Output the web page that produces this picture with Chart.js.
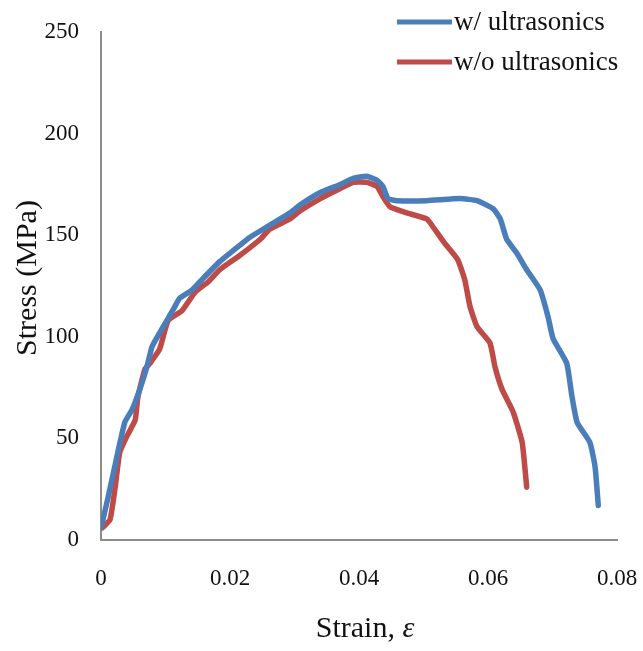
<!DOCTYPE html>
<html>
<head>
<meta charset="utf-8">
<script src="https://cdn.jsdelivr.net/npm/chart.js@4/dist/chart.umd.min.js"></script>
<style>
  html, body { margin: 0; padding: 0; background: #fff; }
  #wrap { width: 643px; height: 651px; }
</style>
</head>
<body>
<div id="wrap"><canvas id="c" width="643" height="651"></canvas></div>
<script>
// Tensile stress-strain curves, with and without ultrasonic treatment
const seriesNames = ['w/ ultrasonics', 'w/o ultrasonics'];
const seriesColors = ['#4a7ebb', '#be4b48'];

const withStrain = [0, 0.0011, 0.0026, 0.0037, 0.0048, 0.0060, 0.0071, 0.0079, 0.0091, 0.0102,
  0.0113, 0.0122, 0.0141, 0.0153, 0.0184, 0.0215, 0.0231, 0.0262, 0.0293, 0.0309,
  0.0340, 0.0371, 0.0391, 0.0412, 0.0428, 0.0437, 0.0445, 0.0459, 0.0505, 0.0557,
  0.0583, 0.0608, 0.0619, 0.0629, 0.0645, 0.0660, 0.0681, 0.0693, 0.0701, 0.0722,
  0.0730, 0.0738, 0.0758, 0.0766, 0.0771];
const withStress = [6, 21, 43, 58, 64, 74, 85, 95, 102, 108,
  114, 119, 123, 127, 137, 145, 149, 155, 161, 165,
  171, 175, 178, 179, 177, 174, 168, 167, 167, 168,
  167, 163, 158, 148, 141, 133, 123, 110, 99, 87,
  71, 58, 48, 36, 17];

const withoutStrain = [0.0002, 0.0014, 0.0022, 0.0029, 0.0040, 0.0053, 0.0057, 0.0068, 0.0076, 0.0091,
  0.0104, 0.0126, 0.0146, 0.0166, 0.0184, 0.0215, 0.0247, 0.0262, 0.0293, 0.0309,
  0.0340, 0.0371, 0.0391, 0.0412, 0.0428, 0.0437, 0.0448, 0.0474, 0.0505, 0.0515,
  0.0533, 0.0553, 0.0564, 0.0572, 0.0583, 0.0603, 0.0611, 0.0622, 0.0639, 0.0653,
  0.0660];
const withoutStress = [6, 10, 26, 43, 51, 59, 70, 84, 87, 94,
  108, 113, 122, 127, 133, 140, 148, 153, 158, 162,
  168, 173, 176, 176, 174, 169, 164, 161, 158, 154,
  146, 138, 128, 115, 105, 97, 85, 74, 63, 48,
  26];

const xTicks = [0, 0.02, 0.04, 0.06, 0.08];
const yTicks = [0, 50, 100, 150, 200, 250];

const toPoints = (xs, ys) => xs.map((x, i) => ({ x: x, y: ys[i] }));

const SERIF = '"Liberation Serif", "Times New Roman", serif';
const TEXT = '#111111';
const AXIS = '#8c8c8c';

// Legend in the top-right corner, plus both axis titles (the x title has an italic epsilon)
const decorations = {
  id: 'decorations',
  afterDraw(chart) {
    const ctx = chart.ctx;
    ctx.save();
    // legend
    const rows = [22, 62];
    chart.data.datasets.forEach((ds, i) => {
      const y = rows[i];
      ctx.strokeStyle = ds.borderColor;
      ctx.lineWidth = 5;
      ctx.lineCap = 'butt';
      ctx.beginPath();
      ctx.moveTo(397, y);
      ctx.lineTo(452, y);
      ctx.stroke();
      ctx.fillStyle = TEXT;
      ctx.font = '27px ' + SERIF;
      ctx.textBaseline = 'middle';
      ctx.textAlign = 'left';
      ctx.fillText(ds.label, 454, y + 1);
    });

    // x-axis title
    const ty = 629;
    const cx = 365;
    ctx.font = '30px ' + SERIF;
    const part1 = 'Strain, ';
    const w1 = ctx.measureText(part1).width;
    ctx.font = 'italic 30px ' + SERIF;
    const w2 = ctx.measureText('ε').width;
    const start = cx - (w1 + w2) / 2;
    ctx.textBaseline = 'middle';
    ctx.textAlign = 'left';
    ctx.font = '30px ' + SERIF;
    ctx.fillText(part1, start, ty);
    ctx.font = 'italic 30px ' + SERIF;
    ctx.fillText('ε', start + w1, ty);

    // y-axis title
    ctx.translate(28, 278);
    ctx.rotate(-Math.PI / 2);
    ctx.font = '30px ' + SERIF;
    ctx.textAlign = 'center';
    ctx.textBaseline = 'middle';
    ctx.fillText('Stress (MPa)', 0, 0);
    ctx.restore();
  }
};

const lineStyle = {
  showLine: true,
  borderWidth: 5.5,
  pointRadius: 0,
  tension: 0.15,
  borderJoinStyle: 'round',
  borderCapStyle: 'round'
};

new Chart(document.getElementById('c'), {
  type: 'scatter',
  data: {
    datasets: [
      Object.assign({
        label: seriesNames[0],
        data: toPoints(withStrain, withStress),
        borderColor: seriesColors[0],
        backgroundColor: seriesColors[0]
      }, lineStyle),
      Object.assign({
        label: seriesNames[1],
        data: toPoints(withoutStrain, withoutStress),
        borderColor: seriesColors[1],
        backgroundColor: seriesColors[1]
      }, lineStyle)
    ]
  },
  options: {
    responsive: false,
    animation: false,
    devicePixelRatio: 1,
    layout: { padding: { top: 32, right: 26, bottom: 0, left: 0 } },
    plugins: {
      legend: { display: false },
      tooltip: { enabled: false }
    },
    scales: {
      x: {
        type: 'linear',
        min: 0,
        max: 0.08,
        afterBuildTicks(scale) { scale.ticks = xTicks.map(v => ({ value: v })); },
        afterFit(scale) {
          scale.height = 111;
          scale.paddingLeft = 0;
          scale.paddingRight = 0;
        },
        grid: { display: false, drawTicks: false },
        border: { display: true, color: AXIS, width: 2 },
        ticks: {
          padding: 25,
          color: TEXT,
          font: { family: SERIF, size: 23 },
          callback: v => (v === 0 ? '0' : String(+v.toFixed(2)))
        },
        title: { display: false }
      },
      y: {
        type: 'linear',
        min: 0,
        max: 250,
        afterBuildTicks(scale) { scale.ticks = yTicks.map(v => ({ value: v })); },
        afterFit(scale) {
          scale.width = 101;
          scale.paddingTop = 0;
          scale.paddingBottom = 0;
        },
        grid: { display: false, drawTicks: false },
        border: { display: true, color: AXIS, width: 2 },
        ticks: {
          padding: 22,
          color: TEXT,
          font: { family: SERIF, size: 23 }
        },
        title: { display: false }
      }
    }
  },
  plugins: [decorations]
});
</script>
</body>
</html>
